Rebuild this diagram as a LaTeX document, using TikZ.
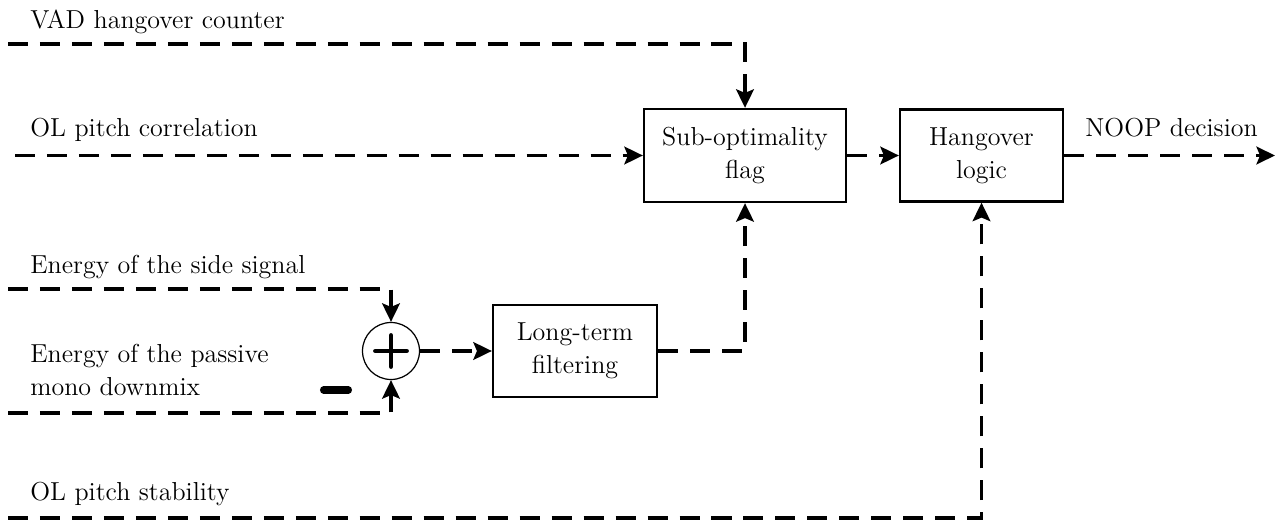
\documentclass[tikz,border=0pt]{standalone}
\usetikzlibrary{arrows.meta,calc}

\begin{document}
\begin{tikzpicture}[x=0.02cm, y=-0.02cm,
  every node/.style={font=\fontsize{14.8}{18.6}\selectfont},
  block/.style={draw, line width=1.3pt, minimum width=4.04cm,
                minimum height=1.86cm, align=center, inner sep=0pt},
  summer/.style={draw, circle, line width=0.7pt, minimum size=1.14cm,
                 inner sep=0pt},
  lbl/.style={anchor=base west, align=left, inner sep=0pt},
  arr/.style={-{Stealth[length=10.5pt, width=10pt, inset=2pt]},
              line width=2.1pt, dash pattern=on 11.4pt off 6.8pt},
  sign/.style={line cap=round}
]
\useasboundingbox (0,0) rectangle (1277,520);

% Blocks
\node[block] (subopt) at (745,155.5) {Sub-optimality\\flag};
\node[block, minimum width=3.26cm, minimum height=1.84cm]
     (hang) at (981.5,155.5) {Hangover\\logic};
\node[block, minimum width=3.28cm, minimum height=1.84cm]
     (ltf) at (575,351) {Long-term\\filtering};
\node[summer] (sum) at (391,351) {};
\draw[sign, line width=2.8pt] ($(sum)+(-15.5,0)$) -- ($(sum)+(15.5,0)$)
     ($(sum)+(0,-15.5)$) -- ($(sum)+(0,15.5)$);
\draw[sign, line width=4pt] ($(sum)+(-67.5,39)$) -- ($(sum)+(-42.5,39)$);

% Inputs and output
\coordinate (vadin) at (8,44);
\coordinate (olcin) at (15,155.5);
\coordinate (sidein) at (8,289);
\coordinate (monoin) at (8,413);
\coordinate (stabin) at (8,518);
\coordinate (noop) at (1275,155.5);

% Labels
\node[lbl] (vadlbl) at (30,29) {VAD hangover counter};
\node[lbl] (olclbl) at (30,137) {OL pitch correlation};
\node[lbl] (sidelbl) at (30,273) {Energy of the side signal};
\node[lbl] (monolbl) at (30,395) {Energy of the passive\\mono downmix};
\node[lbl] (stablbl) at (30,500) {OL pitch stability};
\node[lbl] (nooplbl) at (1085,137) {NOOP decision};

% Connections
\draw[arr] (vadin) -| (subopt.north);
\draw[arr] (olcin) -- (subopt.west);
\draw[arr] (sidein) -| (sum.north);
\draw[arr] (monoin) -| (sum.south);
\draw[arr] (sum.east) -- (ltf.west);
\draw[arr] (ltf.east) -| (subopt.south);
\draw[arr] (subopt.east) -- (hang.west);
\draw[arr] (stabin) -| (hang.south);
\draw[arr] (hang.east) -- (noop);

\end{tikzpicture}
\end{document}
